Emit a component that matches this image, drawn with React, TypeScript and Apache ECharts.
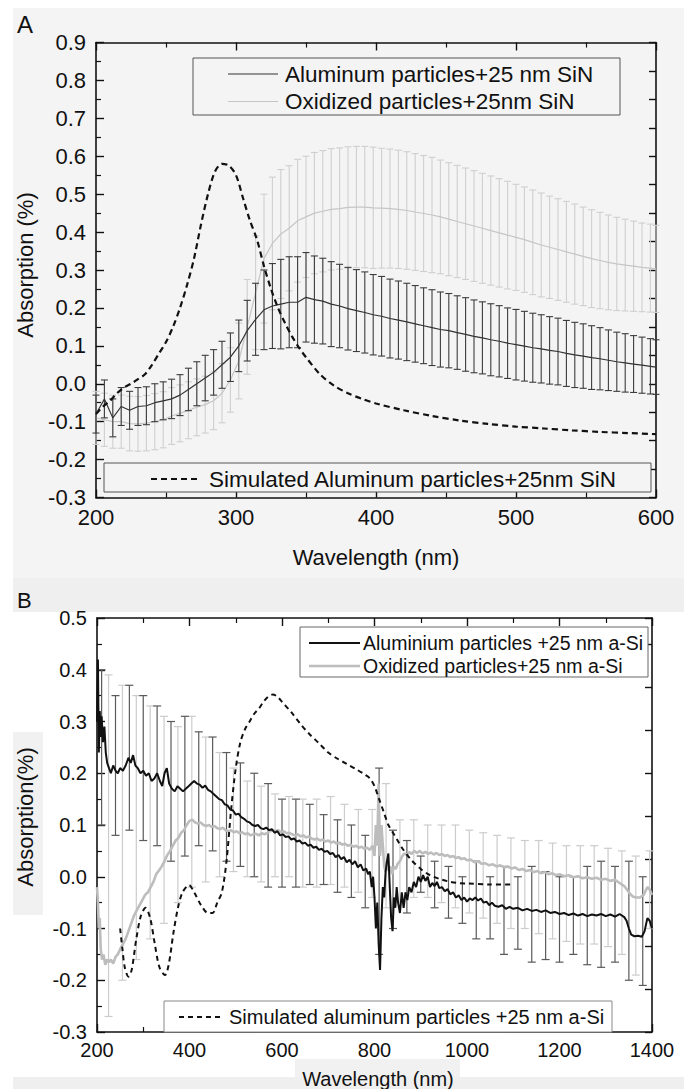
import React, { useEffect, useRef } from "react";
import * as echarts from "echarts";

// ---------------- Panel A data ----------------
const A_X = [200,206,212,218,224,230,236,242,248,254,260,266,272,278,284,290,296,302,308,314,320,326,332,338,344,350,356,362,368,374,380,386,392,398,404,410,416,422,428,434,440,446,452,458,464,470,476,482,488,494,500,506,512,518,524,530,536,542,548,554,560,566,572,578,584,590,596,600];
const A_AL = [-0.08,-0.04,-0.09,-0.06,-0.07,-0.06,-0.058,-0.05,-0.045,-0.04,-0.03,-0.015,0.0,0.015,0.03,0.05,0.07,0.1,0.14,0.17,0.195,0.205,0.21,0.215,0.215,0.228,0.222,0.218,0.21,0.205,0.198,0.193,0.188,0.182,0.178,0.172,0.168,0.163,0.158,0.153,0.148,0.143,0.14,0.135,0.13,0.125,0.121,0.116,0.112,0.107,0.103,0.099,0.095,0.092,0.088,0.085,0.08,0.076,0.073,0.069,0.066,0.062,0.058,0.055,0.052,0.049,0.046,0.044];
const A_AL_ERR = [0.05,0.05,0.05,0.05,0.05,0.05,0.05,0.05,0.05,0.052,0.054,0.056,0.058,0.06,0.06,0.062,0.064,0.068,0.08,0.095,0.105,0.112,0.118,0.12,0.12,0.118,0.115,0.113,0.112,0.11,0.109,0.108,0.107,0.106,0.105,0.104,0.103,0.102,0.101,0.1,0.1,0.099,0.098,0.097,0.097,0.096,0.095,0.095,0.094,0.093,0.093,0.092,0.091,0.09,0.089,0.088,0.087,0.086,0.085,0.084,0.082,0.08,0.078,0.077,0.075,0.074,0.073,0.072];
const A_OX = [-0.09,-0.095,-0.1,-0.1,-0.105,-0.106,-0.104,-0.1,-0.095,-0.085,-0.078,-0.07,-0.062,-0.055,-0.045,-0.025,0.01,0.06,0.15,0.24,0.33,0.37,0.395,0.41,0.43,0.44,0.45,0.455,0.46,0.462,0.465,0.466,0.466,0.464,0.463,0.462,0.46,0.457,0.453,0.449,0.445,0.44,0.434,0.428,0.422,0.416,0.41,0.404,0.398,0.392,0.386,0.38,0.373,0.366,0.36,0.354,0.348,0.342,0.336,0.33,0.325,0.32,0.316,0.313,0.31,0.307,0.305,0.303];
const A_OX_ERR = [0.07,0.07,0.07,0.07,0.072,0.072,0.073,0.074,0.074,0.075,0.075,0.075,0.075,0.075,0.076,0.078,0.085,0.1,0.125,0.15,0.17,0.175,0.17,0.165,0.162,0.16,0.16,0.16,0.16,0.16,0.16,0.16,0.16,0.16,0.158,0.157,0.156,0.155,0.154,0.153,0.152,0.15,0.149,0.148,0.147,0.146,0.145,0.144,0.143,0.142,0.14,0.139,0.138,0.137,0.135,0.134,0.133,0.132,0.13,0.129,0.127,0.125,0.123,0.121,0.119,0.117,0.116,0.115];
const A_SIM_X = [200,205,210,215,220,225,230,235,240,245,250,255,260,265,270,275,280,285,290,295,300,305,310,315,320,325,330,335,340,345,350,360,370,380,390,400,420,440,460,480,500,520,540,560,580,600];
const A_SIM_Y = [-0.08,-0.06,-0.045,-0.025,-0.01,0.0,0.012,0.025,0.05,0.08,0.11,0.15,0.2,0.26,0.33,0.42,0.5,0.56,0.58,0.575,0.55,0.49,0.43,0.38,0.31,0.25,0.2,0.16,0.125,0.095,0.07,0.025,-0.005,-0.025,-0.04,-0.052,-0.07,-0.085,-0.097,-0.106,-0.113,-0.118,-0.123,-0.127,-0.13,-0.133];
const A_X_TICKS = [200, 300, 400, 500, 600];

// ---------------- Panel B data ----------------
const B_AL_X = [200,202,204,206,208,210,213,216,219,222,226,230,235,240,245,250,256,262,268,273,278,283,288,294,300,306,312,318,324,330,336,341,346,351,356,362,368,374,380,386,392,398,404,410,416,422,428,434,440,446,452,458,464,470,476,482,488,494,500,506,512,518,524,530,536,542,548,554,560,566,572,578,584,590,596,602,608,614,620,626,632,638,644,650,656,662,668,674,680,686,692,698,704,710,716,722,728,734,740,746,752,758,764,770,776,782,786,790,794,797,800,803,806,809,812,815,818,821,824,827,830,833,836,839,842,845,848,851,855,859,863,867,871,875,880,885,890,895,900,905,910,915,920,925,930,935,940,946,952,958,964,970,976,982,988,994,1000,1006,1012,1018,1024,1030,1036,1042,1048,1054,1060,1068,1076,1084,1092,1100,1110,1120,1130,1140,1150,1160,1170,1180,1190,1200,1210,1220,1230,1240,1250,1260,1270,1280,1290,1300,1310,1320,1330,1340,1345,1350,1355,1362,1370,1378,1384,1390,1395,1400];
const B_AL_Y = [0.3,0.42,0.24,0.32,0.27,0.31,0.26,0.29,0.24,0.22,0.21,0.2,0.215,0.205,0.2,0.21,0.205,0.215,0.23,0.22,0.235,0.215,0.21,0.2,0.205,0.195,0.2,0.185,0.19,0.2,0.185,0.175,0.2,0.21,0.18,0.17,0.165,0.175,0.17,0.165,0.17,0.175,0.18,0.185,0.18,0.178,0.172,0.176,0.168,0.165,0.16,0.155,0.15,0.148,0.14,0.138,0.13,0.128,0.12,0.122,0.115,0.112,0.107,0.105,0.1,0.098,0.1,0.094,0.092,0.095,0.09,0.092,0.085,0.088,0.08,0.082,0.077,0.078,0.072,0.074,0.068,0.07,0.064,0.066,0.06,0.062,0.056,0.058,0.052,0.054,0.048,0.05,0.044,0.046,0.038,0.042,0.034,0.038,0.028,0.033,0.024,0.03,0.018,0.024,0.012,0.016,0.005,0.01,-0.02,0.0,-0.04,-0.1,-0.05,-0.13,-0.18,-0.08,-0.02,-0.04,0.01,0.03,0.045,-0.02,-0.08,-0.105,-0.04,-0.06,-0.02,-0.05,-0.07,-0.03,-0.06,-0.03,-0.045,-0.02,-0.03,-0.01,-0.02,0.0,-0.01,0.003,-0.008,0.0,-0.02,-0.012,-0.018,-0.01,-0.022,-0.02,-0.028,-0.024,-0.034,-0.03,-0.04,-0.036,-0.045,-0.04,-0.048,-0.042,-0.045,-0.04,-0.046,-0.042,-0.05,-0.048,-0.055,-0.05,-0.056,-0.058,-0.055,-0.062,-0.058,-0.062,-0.06,-0.065,-0.062,-0.066,-0.064,-0.068,-0.065,-0.07,-0.068,-0.072,-0.07,-0.074,-0.071,-0.075,-0.072,-0.076,-0.073,-0.075,-0.072,-0.076,-0.073,-0.077,-0.072,-0.078,-0.085,-0.1,-0.112,-0.115,-0.114,-0.116,-0.105,-0.08,-0.085,-0.1];
const B_OX_X = [200,202,204,206,208,211,214,218,222,226,230,235,240,245,250,256,262,268,274,280,286,292,298,304,310,316,322,328,334,340,346,352,358,364,370,376,382,388,394,400,406,412,418,424,430,436,442,448,454,460,466,472,478,484,490,496,502,508,514,520,526,532,538,544,550,556,562,568,574,580,586,592,598,604,610,616,622,628,634,640,646,652,658,664,670,676,682,688,694,700,706,712,718,724,730,736,742,748,754,760,766,772,778,784,790,796,800,803,806,809,812,815,818,821,824,827,830,834,838,842,846,850,855,860,865,870,875,880,886,892,898,904,910,916,922,928,934,940,946,952,958,964,970,976,982,988,994,1000,1008,1016,1024,1032,1040,1048,1056,1064,1072,1080,1088,1096,1104,1112,1120,1128,1136,1144,1152,1160,1168,1176,1184,1192,1200,1210,1220,1230,1240,1250,1260,1270,1280,1290,1300,1310,1320,1330,1340,1350,1358,1366,1374,1382,1390,1395,1400];
const B_OX_Y = [-0.02,-0.05,-0.1,-0.08,-0.14,-0.16,-0.15,-0.17,-0.16,-0.165,-0.16,-0.168,-0.155,-0.15,-0.14,-0.13,-0.12,-0.105,-0.09,-0.075,-0.065,-0.055,-0.045,-0.035,-0.03,-0.02,-0.01,0.005,0.012,0.02,0.03,0.042,0.05,0.06,0.07,0.075,0.085,0.09,0.1,0.108,0.11,0.105,0.103,0.105,0.1,0.098,0.1,0.096,0.098,0.094,0.092,0.095,0.09,0.088,0.09,0.086,0.088,0.084,0.086,0.082,0.084,0.08,0.082,0.083,0.08,0.084,0.082,0.085,0.088,0.09,0.088,0.09,0.086,0.088,0.084,0.085,0.082,0.08,0.082,0.078,0.08,0.076,0.078,0.074,0.072,0.074,0.07,0.072,0.068,0.07,0.066,0.068,0.064,0.066,0.062,0.064,0.06,0.062,0.058,0.06,0.056,0.058,0.054,0.056,0.052,0.06,0.04,0.1,0.06,0.18,0.04,0.1,0.06,0.02,0.01,0.03,0.012,0.02,0.005,0.02,0.015,0.025,0.03,0.04,0.045,0.042,0.048,0.044,0.05,0.046,0.05,0.045,0.048,0.044,0.047,0.043,0.046,0.042,0.044,0.04,0.042,0.038,0.04,0.036,0.038,0.034,0.036,0.032,0.033,0.028,0.03,0.025,0.026,0.022,0.024,0.02,0.022,0.018,0.02,0.016,0.018,0.013,0.015,0.011,0.013,0.009,0.011,0.007,0.009,0.005,0.007,0.003,0.005,0.001,0.003,-0.001,0.001,-0.003,-0.001,-0.004,-0.002,-0.006,-0.004,-0.008,-0.006,-0.012,-0.018,-0.03,-0.038,-0.04,-0.04,-0.035,-0.02,-0.025,-0.035];
const B_SIM_X = [250,255,260,268,275,285,295,305,315,325,335,347,355,365,375,385,399,410,425,440,450,460,470,480,490,500,510,520,530,540,550,560,570,580,590,600,620,640,660,680,700,720,740,760,780,790,800,810,820,830,840,850,860,880,900,920,940,960,980,1000,1050,1100];
const B_SIM_Y = [-0.1,-0.14,-0.175,-0.193,-0.18,-0.12,-0.075,-0.06,-0.08,-0.13,-0.175,-0.19,-0.17,-0.11,-0.06,-0.03,-0.016,-0.03,-0.055,-0.07,-0.07,-0.05,-0.03,0.03,0.13,0.21,0.26,0.285,0.3,0.315,0.325,0.338,0.348,0.352,0.348,0.338,0.318,0.295,0.275,0.258,0.24,0.228,0.218,0.208,0.197,0.19,0.175,0.15,0.125,0.1,0.085,0.07,0.055,0.032,0.015,0.003,-0.004,-0.009,-0.012,-0.013,-0.015,-0.015];
const B_AL_BAR_X = [210,240,270,300,330,360,390,420,450,480,510,540,570,600,630,660,690,720,750,780,810,840,870,900,930,960,990,1020,1050,1080,1110,1140,1170,1200,1230,1260,1290,1320,1350,1380];
const B_AL_BAR_LO = [0.1,0.08,0.09,0.07,0.06,0.03,0.04,0.06,0.05,0.03,0.02,0.0,-0.02,-0.02,-0.02,-0.015,-0.015,-0.03,-0.04,-0.06,-0.15,-0.1,-0.07,-0.03,-0.06,-0.08,-0.09,-0.12,-0.12,-0.15,-0.14,-0.165,-0.16,-0.165,-0.15,-0.17,-0.175,-0.165,-0.2,-0.21];
const B_AL_BAR_HI = [0.4,0.35,0.37,0.35,0.33,0.3,0.31,0.28,0.27,0.24,0.22,0.2,0.18,0.15,0.15,0.14,0.12,0.11,0.1,0.08,0.21,0.09,0.07,0.04,0.03,0.02,0.0,0.03,0.0,0.02,0.0,0.02,0.01,0.0,0.0,0.02,0.03,0.02,0.03,0.0];
const B_OX_BAR_X = [225,255,285,315,345,375,405,435,465,495,525,555,585,615,645,675,705,735,765,795,825,855,885,915,945,975,1005,1035,1065,1095,1125,1155,1185,1215,1245,1275,1305,1335,1365,1395];
const B_OX_BAR_LO = [-0.27,-0.2,-0.16,-0.12,-0.09,-0.05,-0.02,-0.01,0.0,0.01,0.0,-0.01,0.0,0.0,-0.02,-0.02,-0.015,-0.02,-0.03,-0.04,-0.06,-0.05,-0.04,-0.04,-0.05,-0.06,-0.07,-0.08,-0.09,-0.1,-0.1,-0.11,-0.12,-0.125,-0.13,-0.13,-0.135,-0.15,-0.19,-0.1];
const B_OX_BAR_HI = [0.39,0.37,0.35,0.33,0.31,0.29,0.31,0.27,0.24,0.21,0.185,0.175,0.16,0.155,0.15,0.15,0.155,0.14,0.13,0.13,0.18,0.11,0.11,0.1,0.1,0.1,0.09,0.085,0.08,0.075,0.07,0.07,0.065,0.06,0.06,0.06,0.055,0.05,0.04,0.05];

const FONT = "'Liberation Sans', Arial, Helvetica, sans-serif";
const INK = "#111111";

function errRender(color: string, half: number, lw: number) {
  return (params: any, api: any) => {
    const x = api.value(0);
    const a = api.coord([x, api.value(1)]);
    const b = api.coord([x, api.value(2)]);
    const st = { stroke: color, lineWidth: lw };
    return {
      type: "group",
      children: [
        { type: "line", shape: { x1: a[0], y1: a[1], x2: b[0], y2: b[1] }, style: st },
        { type: "line", shape: { x1: b[0] - half, y1: b[1], x2: b[0] + half, y2: b[1] }, style: st },
        { type: "line", shape: { x1: a[0] - half, y1: a[1], x2: a[0] + half, y2: a[1] }, style: st },
      ],
    };
  };
}

const zip = (xs: number[], ys: number[]) => xs.map((x, i) => [x, ys[i]]);

function axisBase(extra: any) {
  return {
    type: "value",
    axisLine: { show: true, onZero: false, lineStyle: { color: INK, width: 1.6 } },
    axisTick: { show: true, inside: true, length: 8, lineStyle: { color: INK, width: 1.4 } },
    splitLine: { show: false },
    ...extra,
  };
}

export default function App() {
  const ref = useRef<HTMLDivElement>(null);
  useEffect(() => {
    document.body.style.margin = "0";
    document.body.style.overflow = "hidden";
    const chart = echarts.init(ref.current!, null, { renderer: "svg" });
    const yFmt = (v: number) => (Math.abs(v) < 1e-9 ? "0.0" : v.toFixed(1));
    const minor = { show: true, splitNumber: 2, length: 5, lineStyle: { color: INK, width: 1.2 } };

    const option: any = {
      animation: false,
      backgroundColor: "#ffffff",
      grid: [
        { left: 96, top: 42.5, width: 560, height: 455 },
        { left: 97, top: 618, width: 555, height: 414 },
      ],
      xAxis: [
        axisBase({
          gridIndex: 0, position: "bottom", min: 200, max: 600, interval: 100,
          minorTick: minor,
          axisLabel: { show: true, fontSize: 22, fontFamily: FONT, color: INK, margin: 9, formatter: (v: number) => (A_X_TICKS.includes(v) ? String(v) : "") },
        }),
        axisBase({
          gridIndex: 0, position: "top", min: 200, max: 600, interval: 100,
          minorTick: minor, axisLabel: { show: false },
        }),
        axisBase({
          gridIndex: 1, position: "bottom", min: 200, max: 1400, interval: 200,
          minorTick: minor,
          axisLabel: { show: true, fontSize: 20, fontFamily: FONT, color: INK, margin: 8, formatter: (v: number) => String(Math.round(v)) },
        }),
        axisBase({
          gridIndex: 1, position: "top", min: 200, max: 1400, interval: 200,
          minorTick: minor, axisLabel: { show: false },
        }),
      ],
      yAxis: [
        axisBase({
          gridIndex: 0, position: "left", min: -0.3, max: 0.9, interval: 0.1,
          minorTick: minor,
          axisLabel: { show: true, fontSize: 22, fontFamily: FONT, color: INK, margin: 10, formatter: yFmt },
        }),
        axisBase({
          gridIndex: 0, position: "right", min: 0, max: 16, interval: 1,
          axisTick: { show: true, inside: true, length: 7, lineStyle: { color: INK, width: 1.4 } },
          axisLabel: { show: false },
        }),
        axisBase({
          gridIndex: 1, position: "left", min: -0.3, max: 0.5, interval: 0.1,
          minorTick: minor,
          axisLabel: { show: true, fontSize: 20, fontFamily: FONT, color: INK, margin: 10, formatter: yFmt },
        }),
        axisBase({
          gridIndex: 1, position: "right", min: 0, max: 9.6, interval: 1,
          axisTick: { show: true, inside: true, length: 7, lineStyle: { color: INK, width: 1.4 } },
          axisLabel: { show: false },
        }),
      ],
      series: [
        // ---- Panel A ----
        {
          type: "custom", name: "A oxidized err", xAxisIndex: 0, yAxisIndex: 0,
          renderItem: errRender("#cfcfcf", 3.5, 1.1),
          encode: { x: 0, y: [1, 2] }, silent: true, z: 2,
          data: A_X.map((x, i) => [x, A_OX[i] - A_OX_ERR[i], A_OX[i] + A_OX_ERR[i]]),
        },
        {
          type: "line", name: "Oxidized particles+25nm SiN", xAxisIndex: 0, yAxisIndex: 0,
          data: zip(A_X, A_OX), showSymbol: false, silent: true, z: 3,
          lineStyle: { color: "#c6c6c6", width: 1.2 },
        },
        {
          type: "custom", name: "A aluminum err", xAxisIndex: 0, yAxisIndex: 0,
          renderItem: errRender("#3c3c3c", 3.5, 1.1),
          encode: { x: 0, y: [1, 2] }, silent: true, z: 4,
          data: A_X.map((x, i) => [x, A_AL[i] - A_AL_ERR[i], A_AL[i] + A_AL_ERR[i]]),
        },
        {
          type: "line", name: "Aluminum particles+25 nm SiN", xAxisIndex: 0, yAxisIndex: 0,
          data: zip(A_X, A_AL), showSymbol: false, silent: true, z: 5,
          lineStyle: { color: "#333333", width: 1.2 },
        },
        {
          type: "line", name: "Simulated Aluminum particles+25nm SiN", xAxisIndex: 0, yAxisIndex: 0,
          data: zip(A_SIM_X, A_SIM_Y), showSymbol: false, silent: true, smooth: 0.3, z: 6,
          lineStyle: { color: "#111111", width: 2.2, type: [6, 4] },
        },
        // ---- Panel B ----
        {
          type: "custom", name: "B oxidized err", xAxisIndex: 2, yAxisIndex: 2,
          renderItem: errRender("#cccccc", 4, 1.2),
          encode: { x: 0, y: [1, 2] }, silent: true, z: 2,
          data: B_OX_BAR_X.map((x, i) => [x, B_OX_BAR_LO[i], B_OX_BAR_HI[i]]),
        },
        {
          type: "custom", name: "B aluminium err", xAxisIndex: 2, yAxisIndex: 2,
          renderItem: errRender("#5a5a5a", 4, 1.2),
          encode: { x: 0, y: [1, 2] }, silent: true, z: 2,
          data: B_AL_BAR_X.map((x, i) => [x, B_AL_BAR_LO[i], B_AL_BAR_HI[i]]),
        },
        {
          type: "line", name: "Oxidized particles+25 nm a-Si", xAxisIndex: 2, yAxisIndex: 2,
          data: zip(B_OX_X, B_OX_Y), showSymbol: false, silent: true, z: 3,
          lineStyle: { color: "#bdbdbd", width: 2.6 },
        },
        {
          type: "line", name: "Aluminium particles +25 nm a-Si", xAxisIndex: 2, yAxisIndex: 2,
          data: zip(B_AL_X, B_AL_Y), showSymbol: false, silent: true, z: 4,
          lineStyle: { color: "#111111", width: 2 },
        },
        {
          type: "line", name: "Simulated aluminum particles +25 nm a-Si", xAxisIndex: 2, yAxisIndex: 2,
          data: zip(B_SIM_X, B_SIM_Y), showSymbol: false, silent: true, smooth: 0.3, z: 5,
          lineStyle: { color: "#111111", width: 2, type: [5, 4] },
        },
      ],
      graphic: [
        // backgrounds
        { type: "rect", z: -10, silent: true, shape: { x: 13, y: 8, width: 671, height: 570 }, style: { fill: "#f4f4f4" } },
        { type: "rect", z: -10, silent: true, shape: { x: 13, y: 578, width: 671, height: 34 }, style: { fill: "#efefef" } },
        { type: "rect", z: -10, silent: true, shape: { x: 13, y: 732, width: 30, height: 183 }, style: { fill: "#f1f1f1" } },
        { type: "rect", z: -10, silent: true, shape: { x: 295, y: 1059, width: 165, height: 18 }, style: { fill: "#f1f1f1" } },
        { type: "rect", z: -10, silent: true, shape: { x: 13, y: 1077, width: 671, height: 12 }, style: { fill: "#efefef" } },
        // panel letters
        { type: "text", z: 10, x: 17, y: 24, style: { text: "A", fontSize: 24, fontFamily: FONT, fill: INK, align: "left", verticalAlign: "middle" } },
        { type: "text", z: 10, x: 17, y: 600, style: { text: "B", fontSize: 22, fontFamily: FONT, fill: INK, align: "left", verticalAlign: "middle" } },
        // axis titles A
        { type: "text", z: 10, x: 376, y: 557, style: { text: "Wavelength (nm)", fontSize: 22, fontFamily: FONT, fill: INK, align: "center", verticalAlign: "middle" } },
        { type: "text", z: 10, x: 25, y: 265, rotation: Math.PI / 2, style: { text: "Absorption (%)", fontSize: 22, fontFamily: FONT, fill: INK, align: "center", verticalAlign: "middle" } },
        // axis titles B
        { type: "text", z: 10, x: 378, y: 1079, style: { text: "Wavelength (nm)", fontSize: 20, fontFamily: FONT, fill: INK, align: "center", verticalAlign: "middle" } },
        { type: "text", z: 10, x: 25, y: 817, rotation: Math.PI / 2, style: { text: "Absorption(%)", fontSize: 22, fontFamily: FONT, fill: INK, align: "center", verticalAlign: "middle" } },
        // legend A top
        { type: "rect", z: 10, shape: { x: 193, y: 58, width: 427, height: 57 }, style: { fill: "#f4f4f4", stroke: "#555555", lineWidth: 1 } },
        { type: "line", z: 11, shape: { x1: 228, y1: 74, x2: 278, y2: 74 }, style: { stroke: "#333333", lineWidth: 1.2 } },
        { type: "text", z: 11, x: 285, y: 74, style: { text: "Aluminum particles+25 nm SiN", fontSize: 22.5, fontFamily: FONT, fill: INK, align: "left", verticalAlign: "middle" } },
        { type: "line", z: 11, shape: { x1: 228, y1: 101.5, x2: 278, y2: 101.5 }, style: { stroke: "#c6c6c6", lineWidth: 1.2 } },
        { type: "text", z: 11, x: 285, y: 101.5, style: { text: "Oxidized particles+25nm SiN", fontSize: 22.5, fontFamily: FONT, fill: INK, align: "left", verticalAlign: "middle" } },
        // legend A bottom
        { type: "rect", z: 10, shape: { x: 104, y: 463, width: 547, height: 29 }, style: { fill: "#f4f4f4", stroke: "#555555", lineWidth: 1 } },
        { type: "line", z: 11, shape: { x1: 151, y1: 479, x2: 200, y2: 479 }, style: { stroke: "#111111", lineWidth: 2.2, lineDash: [6, 4] } },
        { type: "text", z: 11, x: 209, y: 479, style: { text: "Simulated Aluminum particles+25nm SiN", fontSize: 22.5, fontFamily: FONT, fill: INK, align: "left", verticalAlign: "middle" } },
        // legend B top
        { type: "rect", z: 10, shape: { x: 300, y: 627, width: 348, height: 50 }, style: { fill: "#ffffff", stroke: "#666666", lineWidth: 1 } },
        { type: "line", z: 11, shape: { x1: 309, y1: 643, x2: 360, y2: 643 }, style: { stroke: "#111111", lineWidth: 2 } },
        { type: "text", z: 11, x: 363, y: 643, style: { text: "Aluminium particles +25 nm a-Si", fontSize: 19.5, fontFamily: FONT, fill: INK, align: "left", verticalAlign: "middle" } },
        { type: "line", z: 11, shape: { x1: 309, y1: 666, x2: 360, y2: 666 }, style: { stroke: "#bdbdbd", lineWidth: 2.4 } },
        { type: "text", z: 11, x: 363, y: 666, style: { text: "Oxidized particles+25 nm a-Si", fontSize: 19.5, fontFamily: FONT, fill: INK, align: "left", verticalAlign: "middle" } },
        // legend B bottom
        { type: "rect", z: 10, shape: { x: 164, y: 1001, width: 448, height: 31 }, style: { fill: "#ffffff", stroke: "#888888", lineWidth: 1 } },
        { type: "line", z: 11, shape: { x1: 179, y1: 1017, x2: 220, y2: 1017 }, style: { stroke: "#111111", lineWidth: 2, lineDash: [5, 4] } },
        { type: "text", z: 11, x: 229, y: 1017, style: { text: "Simulated aluminum particles +25 nm a-Si", fontSize: 20, fontFamily: FONT, fill: INK, align: "left", verticalAlign: "middle" } },
      ],
    };
    chart.setOption(option);
    return () => chart.dispose();
  }, []);
  return <div ref={ref} style={{ position: "absolute", left: 0, top: 0, width: 684, height: 1089 }} />;
}
